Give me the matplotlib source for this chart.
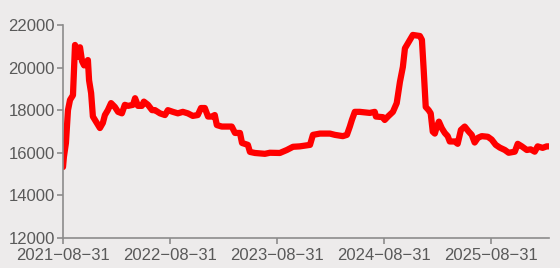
import matplotlib
matplotlib.use("Agg")
import matplotlib.pyplot as plt
import pandas as pd

dates = [
    "2021-08-31", "2021-09-03", "2021-09-10", "2021-09-17", "2021-09-24",
    "2021-10-04", "2021-10-11", "2021-10-18", "2021-10-21", "2021-10-28",
    "2021-11-04", "2021-11-11", "2021-11-24", "2021-11-28", "2021-12-05",
    "2021-12-11", "2021-12-18", "2021-12-25", "2022-01-04", "2022-01-14",
    "2022-01-21", "2022-01-31", "2022-02-11", "2022-02-24", "2022-03-07",
    "2022-03-20", "2022-03-30", "2022-04-10", "2022-04-27", "2022-05-04",
    "2022-05-14", "2022-05-27", "2022-06-03", "2022-06-17", "2022-07-01",
    "2022-07-11", "2022-07-28", "2022-08-14", "2022-08-24", "2022-09-10",
    "2022-09-27", "2022-10-14", "2022-10-31", "2022-11-17", "2022-12-04",
    "2022-12-15", "2022-12-28", "2023-01-08", "2023-01-21", "2023-01-31",
    "2023-02-07", "2023-02-24", "2023-03-17", "2023-03-30", "2023-04-10",
    "2023-04-27", "2023-05-04", "2023-05-24", "2023-05-31", "2023-06-17",
    "2023-07-21", "2023-08-07", "2023-08-31", "2023-09-10", "2023-10-04",
    "2023-10-25", "2023-11-17", "2023-12-22", "2024-01-01", "2024-01-25",
    "2024-02-28", "2024-03-16", "2024-04-12", "2024-04-26", "2024-05-06",
    "2024-05-13", "2024-05-23", "2024-06-09", "2024-07-13", "2024-07-30",
    "2024-08-03", "2024-08-27", "2024-09-02", "2024-09-13", "2024-09-30",
    "2024-10-13", "2024-10-24", "2024-11-03", "2024-11-10", "2024-11-23",
    "2024-12-07", "2024-12-31", "2025-01-07", "2025-01-13", "2025-01-20",
    "2025-01-30", "2025-02-06", "2025-02-13", "2025-02-20", "2025-02-27",
    "2025-03-06", "2025-03-16", "2025-03-26", "2025-04-05", "2025-04-12",
    "2025-04-29", "2025-05-09", "2025-05-20", "2025-06-02", "2025-06-16",
    "2025-06-26", "2025-07-06", "2025-07-17", "2025-07-30", "2025-08-20",
    "2025-09-02", "2025-09-16", "2025-09-30", "2025-10-17", "2025-10-30",
    "2025-11-20", "2025-11-30", "2025-12-14", "2025-12-31", "2026-01-13",
    "2026-01-27", "2026-02-06", "2026-02-23", "2026-03-09", "2026-03-16",
]
values = [
    15330, 15800, 16460, 18000, 18480,
    18700, 21060, 20800, 20500, 20950,
    20300, 20100, 20350, 19400, 18800,
    17700, 17540, 17380, 17160, 17400,
    17770, 18000, 18330, 18150, 17920,
    17850, 18250, 18200, 18250, 18560,
    18200, 18200, 18400, 18250, 18000,
    18000, 17850, 17770, 18000, 17920,
    17850, 17920, 17850, 17730, 17770,
    18100, 18100, 17700, 17700, 17770,
    17300, 17230, 17230, 17230, 16930,
    16930, 16460, 16370, 16040, 15990,
    15950, 16000, 15990, 15990, 16130,
    16280, 16300, 16370, 16840, 16900,
    16900, 16840, 16780, 16840, 17230,
    17540, 17920, 17920, 17870, 17920,
    17700, 17670, 17540, 17700, 17920,
    18330, 19330, 20030, 20900, 21200,
    21530, 21480, 21300, 19900, 18150,
    18000, 17850, 16990, 16900, 17230,
    17460, 17150, 16930, 16780, 16530,
    16530, 16420, 17070, 17230, 16990,
    16840, 16480, 16700, 16780, 16750,
    16620, 16370, 16240, 16130, 16000,
    16050, 16420, 16300, 16130, 16160,
    16050, 16300, 16230, 16300, 16300,
]
tick_dates = ["2021-08-31", "2022-08-31", "2023-08-31", "2024-08-31", "2025-08-31"]

bg = "#EDEBEB"
grey = "#595959"
axis_grey = "#8C8C8C"

plt.rcParams["font.family"] = ["Liberation Sans", "DejaVu Sans"]

x = pd.to_datetime(dates)
fig = plt.figure(figsize=(5.6, 2.68), dpi=100, facecolor=bg)
ax = fig.add_axes([0.1125, 0.112, 0.868, 0.795], facecolor=bg)
ax.plot(x, values, color="#FF0000", lw=4.5, solid_joinstyle="round", solid_capstyle="round")

ax.set_ylim(12000, 22000)
ax.set_yticks(range(12000, 22001, 2000))
ax.set_xlim(pd.Timestamp("2021-08-31"), pd.Timestamp("2026-03-17"))
ax.set_xticks(pd.to_datetime(tick_dates))
ax.set_xticklabels([t.replace("-", "\u2212") for t in tick_dates])

for s in ["top", "right"]:
    ax.spines[s].set_visible(False)
for s in ["left", "bottom"]:
    ax.spines[s].set_color(axis_grey)
    ax.spines[s].set_linewidth(1.2)
ax.tick_params(colors=axis_grey, length=4, width=1.2, labelsize=12, labelcolor=grey)
ax.tick_params(axis="y", pad=2)
ax.tick_params(axis="x", pad=3)

fig.savefig("out.png", dpi=100, facecolor=bg)
